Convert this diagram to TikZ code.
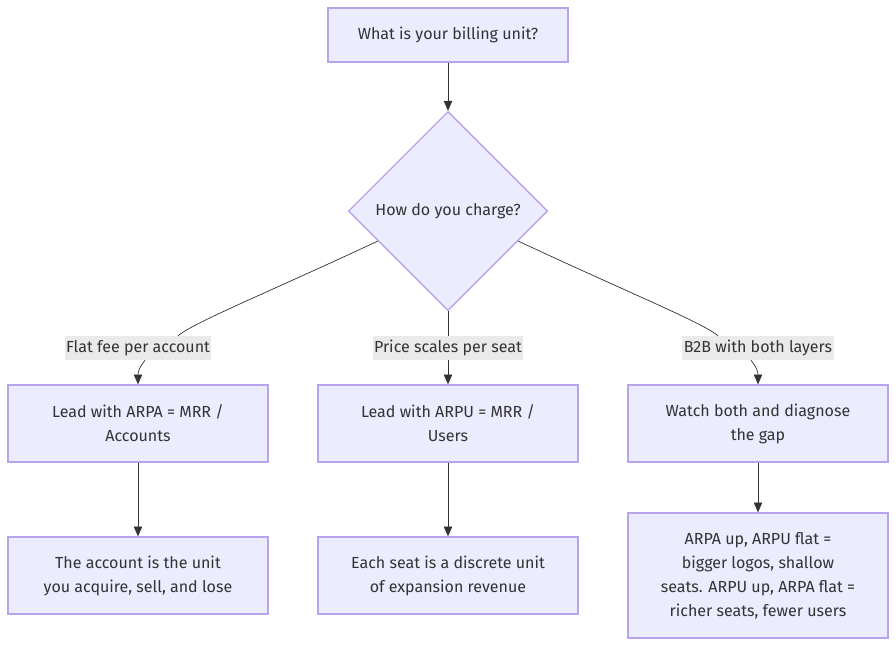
\documentclass[tikz,border=0pt]{standalone}
\usepackage{fontspec}
\setmainfont{Fira Sans}
\usepackage{xcolor}
\usepackage{tikz}
\usetikzlibrary{arrows.meta,shapes.geometric,positioning,calc}
\definecolor{MerFill}{HTML}{ECECFF}
\definecolor{MerLine}{HTML}{B9A3EC}
\definecolor{MerText}{HTML}{333333}
\definecolor{MerLbl}{HTML}{EAEAEA}
\tikzset{
  pbox/.style={draw=MerLine,fill=MerFill,line width=0.9pt,minimum width=6.5cm,minimum height=1.925cm,align=center,text=MerText,inner sep=0pt},
  tbox/.style={pbox,minimum width=6cm,minimum height=1.35cm},
  qbox/.style={draw=MerLine,fill=MerFill,line width=0.9pt,diamond,aspect=1,minimum width=4.98cm,minimum height=4.98cm,inner sep=0pt,text=MerText},
  lbl/.style={fill=MerLbl,inner sep=1pt,minimum height=0.6cm,text=MerText},
  arr/.style={-{Triangle[length=7pt,width=6pt]},MerText,line width=0.5pt},
  edge/.style={MerText,line width=0.5pt},
}
\begin{document}
\begin{tikzpicture}[x=0.025cm,y=-0.025cm,font=\fontsize{11.4}{17}\selectfont]
        \useasboundingbox (0,0) rectangle (896,647);
        \node[tbox] (unit) at (448,35) {What is your billing unit?};
        \node[qbox] (q) at (448,211) {How do you charge?};
        \node[lbl] (l1) at (138,348) {Flat fee per account};
        \node[lbl] (l2) at (448,348) {Price scales per seat};
        \node[lbl] (l3) at (758,348) {B2B with both layers};
        \node[pbox] (arpa) at (138,423.5) {Lead with ARPA = MRR /\\Accounts};
        \node[pbox] (arpu) at (448,423.5) {Lead with ARPU = MRR /\\Users};
        \node[pbox] (both) at (758,423.5) {Watch both and diagnose\\the gap};
        \node[pbox] (acct) at (138,575.5) {The account is the unit\\you acquire, sell, and lose};
        \node[pbox] (seat) at (448,575.5) {Each seat is a discrete unit\\of expansion revenue};
        \node[pbox,minimum height=3.125cm] (gap) at (758,575.5) {ARPA up, ARPU flat =\\bigger logos, shallow\\seats. ARPU up, ARPA flat =\\richer seats, fewer users};
        \coordinate (qa) at ($(q.west)!0.3!(q.south)$);
        \coordinate (qc) at ($(q.east)!0.3!(q.south)$);
        \draw[arr] (unit)--(q);
        % branches through the labels
        \draw[edge] (qa) .. controls (260,296) and (195,322) .. ([xshift=1cm]l1.north);
        \draw[edge] (q.south)--(l2.north);
        \draw[edge] (qc) .. controls (636,296) and (701,322) .. ([xshift=-1cm]l3.north);
        \draw[arr] ([xshift=0.175cm]l1.south) .. controls (139,368) and (138,372) .. (arpa.north);
        \draw[arr] (l2.south)--(arpu.north);
        \draw[arr] ([xshift=-0.175cm]l3.south) .. controls (757,368) and (758,372) .. (both.north);
        \draw[arr] (arpa)--(acct); \draw[arr] (arpu)--(seat); \draw[arr] (both)--(gap);
      \end{tikzpicture}
\end{document}
